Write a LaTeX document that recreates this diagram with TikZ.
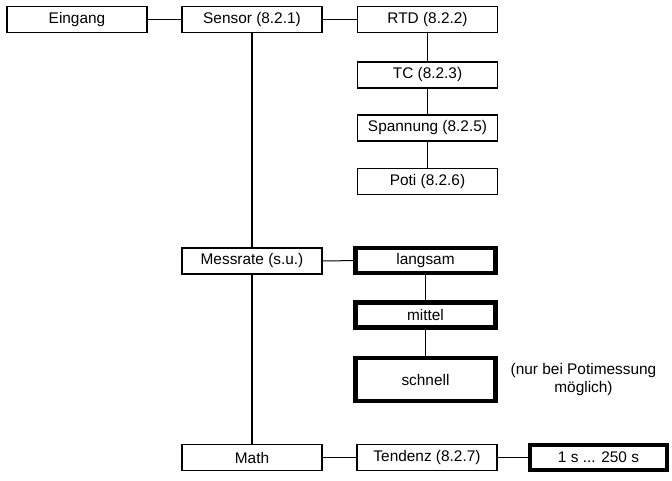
\documentclass[tikz,border=0pt]{standalone}
\usepackage{fontspec}
\setmainfont{Liberation Sans}
\begin{document}
\begin{tikzpicture}[x=1pt,y=-1pt,
  box/.style={draw,line width=1.8pt,minimum width=140pt,minimum height=26pt,inner sep=0pt,font=\fontsize{15.4}{18}\selectfont},
  boldbox/.style={box,line width=4.2pt,minimum width=140pt,minimum height=25pt},
  hline/.style={line width=1pt},
  vline/.style={line width=1.8pt}]
\useasboundingbox (0,0) rectangle (672,480);
\node[box] (ein) at (77,19.5) {Eingang};
\node[box] (sen) at (252,19.5) {Sensor (8.2.1)};
\node[box] (rtd) at (427.5,19.5) {RTD (8.2.2)};
\node[box] (tc) at (427.5,75) {TC (8.2.3)};
\node[box] (spa) at (427.5,128) {Spannung (8.2.5)};
\node[box] (pot) at (427.5,181.5) {Poti (8.2.6)};
\node[box] (mes) at (252,261) {Messrate (s.u.)};
\node[boldbox] (lan) at (425.5,260.5) {langsam};
\node[boldbox] (mit) at (425.5,315) {mittel};
\node[boldbox,minimum height=43pt] (sch) at (425.5,379.5) {schnell};
\node[font=\fontsize{15.4}{18}\selectfont,align=center] (note) at (583.5,379.5) {(nur bei Potimessung\\ möglich)};
\node[box] (mat) at (252,457.5) {Math};
\node[box] (ten) at (427,457.5) {Tendenz (8.2.7)};
\node[boldbox,minimum width=137pt,minimum height=25pt] (rng) at (598.5,457.5) {1 s ... 250 s};
\draw[hline] (ein) -- (sen);
\draw[hline] (sen) -- (rtd);
\draw[vline] (rtd) -- (tc);
\draw[vline] (tc) -- (spa);
\draw[vline] (spa) -- (pot);
\draw[vline] (sen) -- (mes);
\draw[vline] (mes) -- (mat);
\draw[hline] (mes) -- (lan);
\draw[vline] (lan) -- (mit);
\draw[vline] (mit) -- (sch);
\draw[hline] (mat) -- (ten);
\draw[hline] (ten) -- (rng);
\end{tikzpicture}
\end{document}
